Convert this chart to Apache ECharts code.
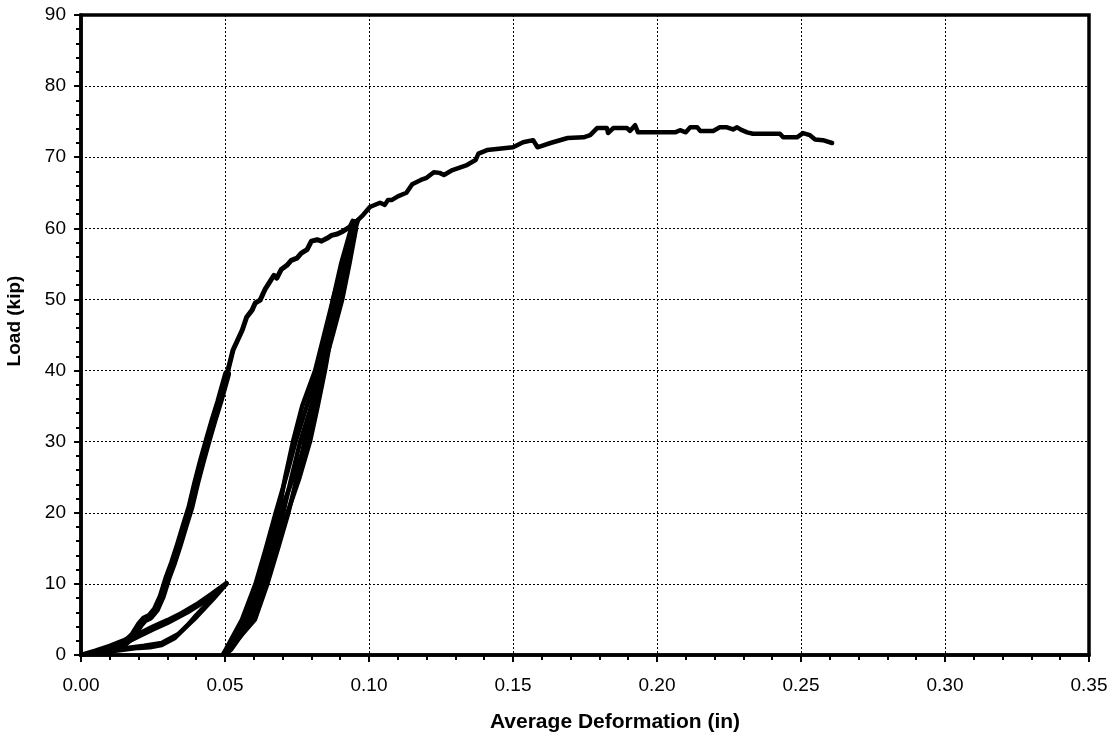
<!DOCTYPE html>
<html>
<head>
<meta charset="utf-8">
<script src="https://cdn.jsdelivr.net/npm/echarts@6/dist/echarts.min.js"></script>
<style>
html,body{margin:0;padding:0;background:#fff;}
#chart{width:1115px;height:743px;}
</style>
</head>
<body>
<div id="chart"></div>
<script>
// ---- Data (x: average deformation in, y: load kip) ----
const xTicks = [0.00, 0.05, 0.10, 0.15, 0.20, 0.25, 0.30, 0.35];
const yTicks = [0, 10, 20, 30, 40, 50, 60, 70, 80, 90];

// initial small cycles to ~10 kip
const smallLoad1 = [[0,0],[0.005,0.6],[0.010,1.3],[0.015,2.1],[0.020,3.0],[0.025,4.0],[0.030,4.9],[0.035,5.9],[0.040,7.1],[0.045,8.5],[0.0505,10.1]];
const smallUnload1 = [[0.0505,10.1],[0.047,8.6],[0.044,7.3],[0.040,5.6],[0.037,4.2],[0.0326,2.4],[0.028,1.4],[0.024,1.1],[0.020,1.0],[0.016,0.8],[0.010,0.5],[0.004,0.2]];
const smallLoad2 = [[0.004,0.2],[0.010,0.9],[0.015,1.6],[0.020,2.6],[0.025,3.6],[0.030,4.5],[0.037,6.0],[0.044,7.8],[0.0505,10.0]];
const smallUnload2 = [[0.0505,10.0],[0.046,7.9],[0.040,5.3],[0.034,3.0],[0.028,1.7],[0.022,1.3],[0.016,1.0],[0.010,0.6]];

// main loading to ~61 kip (lower part drawn heavier, as in the source)
const mainLoadLower = [[0.010,0.6],[0.015,1.6],[0.018,2.7],[0.0205,4.3],[0.022,5.0],[0.024,5.4],[0.026,6.4],[0.028,8.2],[0.030,10.8],[0.032,13.0],[0.034,15.5],[0.036,18.2],[0.038,20.8],[0.040,24.2],[0.042,27.3],[0.044,30.2],[0.046,33.0],[0.048,35.6],[0.0507,39.5]];
const mainLoadUpper = [[0.0507,39.5],[0.0528,42.9],[0.056,45.7],[0.0575,47.5],[0.0594,48.5],[0.0605,49.5],[0.0622,49.9],[0.064,51.5],[0.0656,52.5],[0.067,53.4],[0.068,53.0],[0.0695,54.2],[0.0715,54.8],[0.073,55.5],[0.075,55.8],[0.0765,56.5],[0.0785,57.0],[0.080,58.2],[0.082,58.4],[0.0835,58.2],[0.0854,58.6],[0.087,59.0],[0.089,59.2],[0.091,59.6],[0.0934,60.2],[0.0944,61.0]];

// large cycles 0 - 61 kip
const unload1 = [[0.0944,61.0],[0.0945,60],[0.0920,55],[0.0890,50],[0.0857,45],[0.0824,40],[0.0784,35],[0.0745,30],[0.0712,25],[0.0676,20],[0.0642,15],[0.0606,10],[0.0559,5],[0.0495,0.2]];
const reload1 = [[0.0495,0.2],[0.0510,0.6],[0.0604,5],[0.0647,10],[0.0684,15],[0.0720,20],[0.0750,25],[0.0776,30],[0.0800,35],[0.0828,40],[0.0852,45],[0.0875,50],[0.0903,55],[0.0938,60],[0.0950,61]];
const unload2 = [[0.0950,61],[0.0955,60],[0.0932,55],[0.0907,50],[0.0874,45],[0.0839,40],[0.0800,35],[0.0761,30],[0.0731,25],[0.0702,20],[0.0664,15],[0.0628,10],[0.0577,5],[0.0504,0.2]];
const reload2 = [[0.0504,0.2],[0.0516,0.6],[0.0586,5],[0.0630,10],[0.0672,15],[0.0717,20],[0.0759,25],[0.0795,30],[0.0822,35],[0.0847,40],[0.0869,45],[0.0890,50],[0.0913,55],[0.0947,60],[0.0955,61]];
const unload3 = [[0.0955,61],[0.0944,60],[0.0909,55],[0.0875,50],[0.0844,45],[0.0813,40],[0.0768,35],[0.0736,30],[0.0709,25],[0.0686,20],[0.0653,15],[0.0618,10],[0.0568,5],[0.0500,0.2]];
const reload3 = [[0.0500,0.2],[0.0522,0.8],[0.0595,5],[0.0638,10],[0.0658,15],[0.0692,20],[0.0737,25],[0.0783,30],[0.0814,35],[0.0836,40],[0.0863,45],[0.0899,50],[0.0928,55],[0.0953,60],[0.0962,61.2]];

// post-cycle loading to the end
const postLoad = [[0.0962,61.2],[0.098,61.9],[0.1003,63.0],[0.1038,63.6],[0.1055,63.3],[0.1066,64.0],[0.1080,64.0],[0.1100,64.5],[0.1130,65.0],[0.1150,66.2],[0.1180,66.8],[0.1200,67.1],[0.1225,67.9],[0.1245,67.8],[0.1260,67.5],[0.1290,68.2],[0.1340,68.9],[0.1370,69.6],[0.1380,70.5],[0.1410,71.0],[0.1500,71.4],[0.1535,72.1],[0.1570,72.4],[0.1585,71.4],[0.1630,72.0],[0.1690,72.7],[0.1745,72.8],[0.1768,73.1],[0.1792,74.1],[0.1826,74.1],[0.1830,73.4],[0.1848,74.1],[0.1896,74.1],[0.1906,73.7],[0.1924,74.5],[0.1934,73.5],[0.2000,73.5],[0.2063,73.5],[0.2080,73.8],[0.2100,73.5],[0.2115,74.2],[0.2140,74.2],[0.2150,73.7],[0.2195,73.7],[0.2218,74.2],[0.2243,74.2],[0.2264,73.9],[0.2278,74.2],[0.2295,73.8],[0.2313,73.5],[0.2333,73.3],[0.2427,73.3],[0.2438,72.8],[0.2486,72.8],[0.2507,73.4],[0.2531,73.1],[0.2549,72.5],[0.2576,72.4],[0.2608,72.0]];

const segments = [
  {d: smallLoad1, w: 4.5}, {d: smallUnload1, w: 4.5}, {d: smallLoad2, w: 4.5}, {d: smallUnload2, w: 4.5},
  {d: mainLoadLower, w: 8}, {d: mainLoadUpper, w: 5},
  {d: unload1, w: 4.5}, {d: reload1, w: 4.5}, {d: unload2, w: 4.5}, {d: reload2, w: 4.5}, {d: unload3, w: 4.5}, {d: reload3, w: 4.5},
  {d: postLoad, w: 4.5}
];

const FONT = '"Liberation Sans", Arial, sans-serif';
const chart = echarts.init(document.getElementById('chart'), null, {renderer: 'canvas'});

const series = segments.map(s => ({
  type: 'line',
  data: s.d,
  showSymbol: false,
  symbol: 'none',
  smooth: false,
  lineStyle: {color: '#000', width: s.w, join: 'round', cap: 'round'},
  z: 5,
  animation: false
}));

chart.setOption({
  animation: false,
  backgroundColor: '#fff',
  grid: {left: 81, top: 15, width: 1008, height: 640, outerBoundsMode: 'none', containLabel: false,
         show: true, borderColor: '#000', borderWidth: 3.5, backgroundColor: 'transparent'},
  xAxis: {
    type: 'value', min: xTicks[0], max: xTicks[xTicks.length - 1], interval: 0.05,
    name: 'Average Deformation (in)', nameLocation: 'middle', nameGap: 57,
    nameTextStyle: {fontFamily: FONT, fontSize: 21, fontWeight: 'bold', color: '#000', padding: [0, 0, 0, 60]},
    axisLine: {show: true, onZero: false, lineStyle: {color: '#000', width: 3.5}},
    axisTick: {show: true, inside: false, length: 7, lineStyle: {color: '#000', width: 2}},
    minorTick: {show: true, splitNumber: 5, length: 5, lineStyle: {color: '#000', width: 2}},
    axisLabel: {fontFamily: FONT, fontSize: 19, color: '#000', margin: 21, formatter: v => v.toFixed(2)},
    splitLine: {show: true, lineStyle: {color: '#000', width: 1, type: [2, 2]}}
  },
  yAxis: {
    type: 'value', min: yTicks[0], max: yTicks[yTicks.length - 1], interval: 10,
    name: 'Load (kip)', nameLocation: 'middle', nameGap: 57,
    nameTextStyle: {fontFamily: FONT, fontSize: 19, fontWeight: 'bold', color: '#000', padding: [0, 0, 0, 28]},
    axisLine: {show: true, onZero: false, lineStyle: {color: '#000', width: 3.5}},
    axisTick: {show: true, inside: false, length: 7, lineStyle: {color: '#000', width: 2}},
    minorTick: {show: true, splitNumber: 5, length: 5, lineStyle: {color: '#000', width: 2}},
    axisLabel: {fontFamily: FONT, fontSize: 19, color: '#000', margin: 15},
    splitLine: {show: true, lineStyle: {color: '#000', width: 1, type: [2, 2]}}
  },
  series: series
});
</script>
</body>
</html>
